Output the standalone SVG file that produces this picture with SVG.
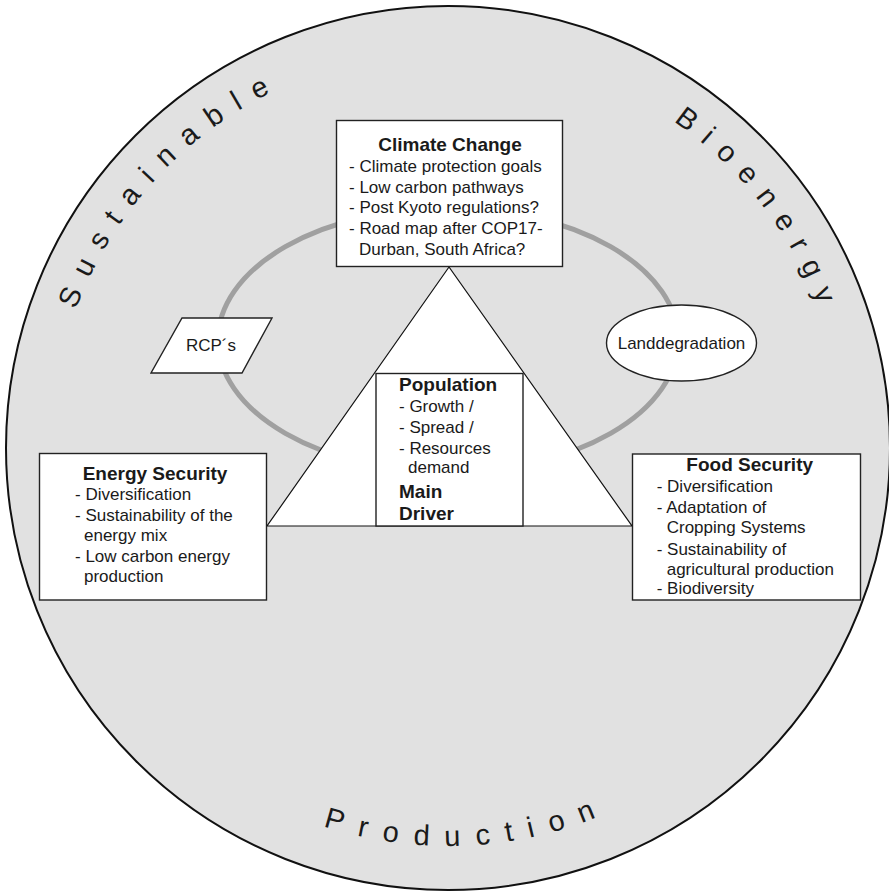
<svg xmlns="http://www.w3.org/2000/svg" width="889" height="891" viewBox="0 0 889 891">
<defs>
<style>
text { font-family: "Liberation Sans", Arial, sans-serif; fill: #1a1a1a; }
.t { font-size: 19px; font-weight: bold; }
.b { font-size: 17px; }
.arc { font-size: 29px; }
.box { fill: #ffffff; stroke: #222222; stroke-width: 1.4; }
</style>
<path id="topArc" d="M 51 448 A 397 397 0 0 1 845 448"/>
<path id="botArc" d="M 50 448 A 398 398 0 0 0 846 448"/>
</defs>
<rect width="889" height="891" fill="#ffffff"/>
<g id="outer-circle">
<circle cx="448" cy="448" r="442" fill="#e1e1e1" stroke="#111111" stroke-width="2"/>
<text class="arc" letter-spacing="14.7"><textPath href="#topArc" startOffset="141">Sustainable</textPath></text>
<text class="arc" letter-spacing="13.3"><textPath href="#topArc" startOffset="863">Bioenergy</textPath></text>
<text class="arc" letter-spacing="15.6"><textPath href="#botArc" startOffset="498">Production</textPath></text>
</g>
<g id="connectors">
<ellipse cx="448" cy="340" rx="230" ry="132" fill="none" stroke="#a0a0a0" stroke-width="5"/>
</g>
<g id="triangle">
<polygon points="449,267 267,526 632,526" fill="#ffffff" stroke="#111111" stroke-width="1.2"/>
</g>
<g id="climate-change">
<rect class="box" x="336.5" y="120.5" width="226" height="146"/>
<text class="t" x="450" y="151" text-anchor="middle">Climate Change</text>
<text class="b" x="349" y="172">- Climate protection goals</text>
<text class="b" x="349" y="192.5">- Low carbon pathways</text>
<text class="b" x="349" y="213">- Post Kyoto regulations?</text>
<text class="b" x="349" y="234">- Road map after COP17-</text>
<text class="b" x="359" y="254.5">Durban, South Africa?</text>
</g>
<g id="population">
<rect class="box" x="376" y="373.5" width="147" height="152.5"/>
<text class="t" x="399" y="391">Population</text>
<text class="b" x="399" y="411.7">- Growth /</text>
<text class="b" x="399" y="432.7">- Spread /</text>
<text class="b" x="399" y="454">- Resources</text>
<text class="b" x="408" y="473.3">demand</text>
<text class="t" x="399" y="498.3">Main</text>
<text class="t" x="399" y="520">Driver</text>
</g>
<g id="energy-security">
<rect class="box" x="39.5" y="453.5" width="227" height="146.5"/>
<text class="t" x="155" y="480" text-anchor="middle">Energy Security</text>
<text class="b" x="75" y="500">- Diversification</text>
<text class="b" x="75" y="520.7">- Sustainability of the</text>
<text class="b" x="84" y="540.7">energy mix</text>
<text class="b" x="75" y="562.3">- Low carbon energy</text>
<text class="b" x="84" y="581.7">production</text>
</g>
<g id="food-security">
<rect class="box" x="632.5" y="454" width="228" height="146"/>
<text class="t" x="749.7" y="470.7" text-anchor="middle">Food Security</text>
<text class="b" x="656.7" y="492.3">- Diversification</text>
<text class="b" x="656.7" y="513.3">- Adaptation of</text>
<text class="b" x="666.7" y="533.3">Cropping Systems</text>
<text class="b" x="656.7" y="555">- Sustainability of</text>
<text class="b" x="666.7" y="575">agricultural production</text>
<text class="b" x="656.7" y="594.3">- Biodiversity</text>
</g>
<g id="rcps">
<polygon class="box" points="182,318 272,318 242,373 151,373"/>
<text class="b" x="211" y="350.5" text-anchor="middle">RCP´s</text>
</g>
<g id="landdegradation">
<ellipse class="box" cx="681.5" cy="343" rx="75" ry="38"/>
<text class="b" x="681.5" y="348.5" text-anchor="middle">Landdegradation</text>
</g>
</svg>
